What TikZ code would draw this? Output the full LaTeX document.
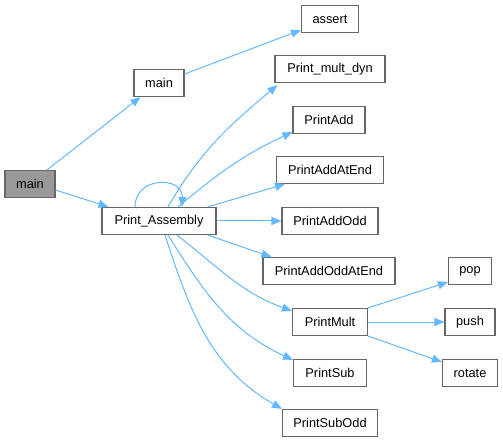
\documentclass[tikz,border=0pt]{standalone}
\usepackage{fontspec}
\setmainfont{Liberation Sans}
\usetikzlibrary{arrows.meta}
\definecolor{edgeblue}{HTML}{63B8FF}
\definecolor{boxgray}{HTML}{666666}
\definecolor{fillgray}{HTML}{999999}
\begin{document}
\begin{tikzpicture}[x=1bp,y=-1bp,
  box/.style={draw=boxgray,line width=1.1bp,fill=white,inner sep=0pt,minimum height=27bp,font=\fontsize{12.8bp}{15bp}\selectfont,text=black},
  callarrow/.style={draw=edgeblue,line width=1bp,-{Triangle[length=10bp,width=8bp]},color=edgeblue}
]
\useasboundingbox (0,0) rectangle (503,443);
\node[box,fill=fillgray,minimum width=50bp] (m1) at (30,184) {main};
\node[box,minimum width=114bp] (pa) at (159,221) {Print\_Assembly};
\node[box,minimum width=50bp] (m2) at (159,83) {main};
\node[box,minimum width=57bp] (as) at (330,19) {assert};
\node[box,minimum width=110bp] (pmd) at (330,69) {Print\_mult\_dyn};
\node[box,minimum width=72bp] (padd) at (329,120) {PrintAdd};
\node[box,minimum width=107bp] (pae) at (330,170) {PrintAddAtEnd};
\node[box,minimum width=96bp] (pao) at (330,221) {PrintAddOdd};
\node[box,minimum width=132bp] (paoe) at (329,271) {PrintAddOddAtEnd};
\node[box,minimum width=75bp] (pm) at (330,322) {PrintMult};
\node[box,minimum width=73bp] (ps) at (330,373) {PrintSub};
\node[box,minimum width=95bp] (pso) at (330,423) {PrintSubOdd};
\node[box,minimum width=43bp] (pop) at (470,271) {pop};
\node[box,minimum width=50bp] (push) at (470,322) {push};
\node[box,minimum width=55bp] (rot) at (470,373) {rotate};

\draw[callarrow] ([xshift=17bp]m1.north) -- ([xshift=7bp]m2.south west);
\draw[callarrow] ([yshift=-6bp]m1.east) -- ([xshift=7bp]pa.north west);
\draw[callarrow] ([yshift=9bp]m2.east) -- ([yshift=3bp]as.south west);
\draw[callarrow] ([xshift=-24bp]pa.north) .. controls ([xshift=-24bp,yshift=31bp]pa.north) and ([xshift=24bp,yshift=31bp]pa.north) .. ([xshift=23bp]pa.north);
\draw[callarrow] ([xshift=9bp]pa.north) to[out=60,in=220] ([xshift=3bp,yshift=-2bp]pmd.south west);
\draw[callarrow] ([xshift=19bp]pa.north) to[out=40,in=205] ([xshift=0bp,yshift=2bp]padd.south west);
\draw[callarrow] ([xshift=-9bp]pa.north east) -- ([xshift=9bp]pae.south west);
\draw[callarrow] (pa.east) -- (pao.west);
\draw[callarrow] ([xshift=-9bp]pa.south east) -- ([xshift=9bp]paoe.north west);
\draw[callarrow] ([xshift=18bp]pa.south) to[out=-38,in=160] ([yshift=-3bp]pm.north west);
\draw[callarrow] ([xshift=9bp]pa.south) to[out=-58,in=155] ([yshift=-1bp]ps.north west);
\draw[callarrow] ([xshift=6bp]pa.south) to[out=-72,in=150] ([yshift=0bp]pso.north west);
\draw[callarrow] (pm.north east) -- ([yshift=3bp]pop.south west);
\draw[callarrow] (pm.east) -- (push.west);
\draw[callarrow] (pm.south east) -- ([yshift=-3bp]rot.north west);
\end{tikzpicture}
\end{document}
